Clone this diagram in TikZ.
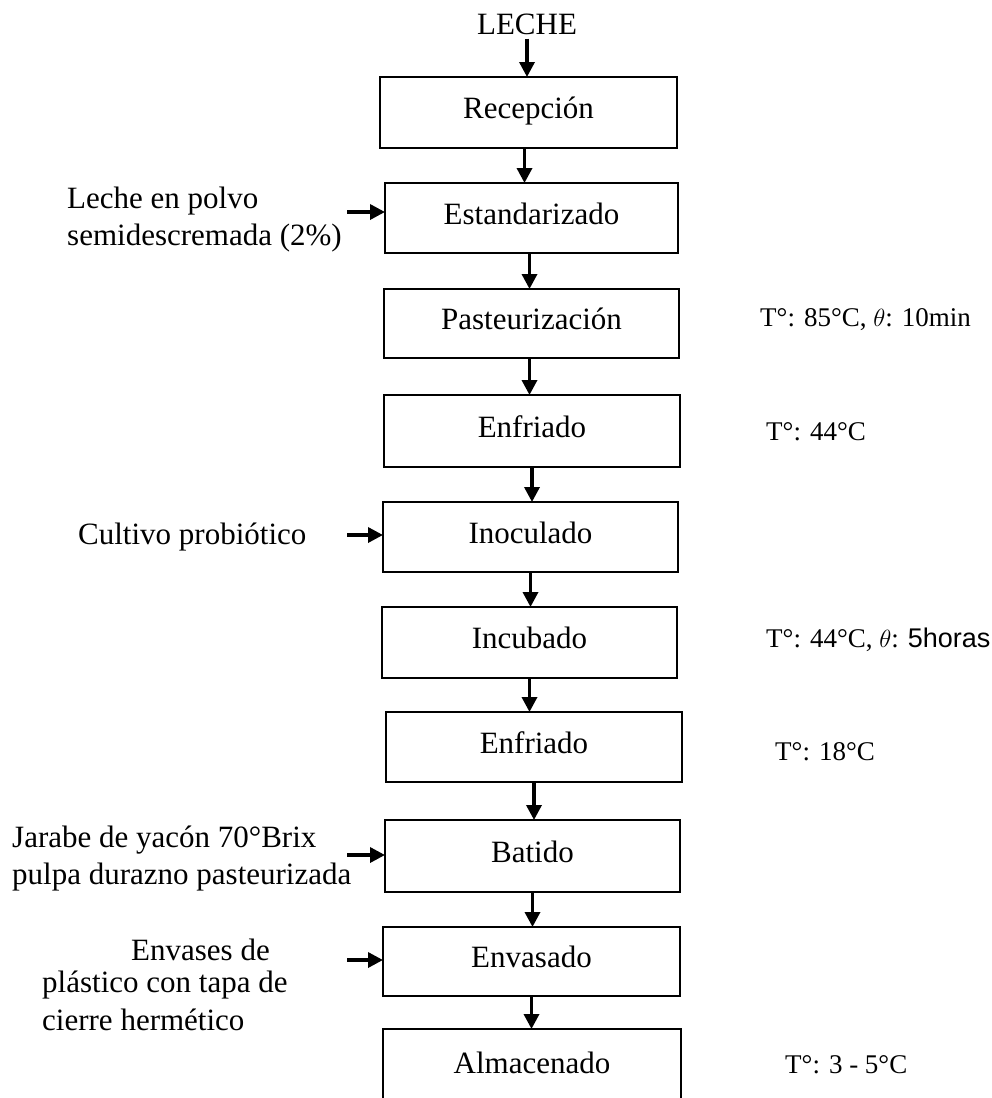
\documentclass[tikz,border=0pt]{standalone}
\usepackage{fontspec}
\setmainfont{Liberation Serif}
\newfontfamily\sanslab{Liberation Sans}
\usetikzlibrary{arrows.meta}

\begin{document}
\begin{tikzpicture}[x=1pt,y=-1pt,
  stepbox/.style={draw, line width=2.6pt, inner sep=0pt, outer sep=0pt,
    font=\fontsize{31}{37}\selectfont, text height=22pt, text depth=10pt},
  flow/.style={line width=3.4pt, -{Triangle[width=15pt,length=15pt]}},
  inlabel/.style={anchor=west, inner sep=0pt, font=\fontsize{31}{37}\selectfont},
  condlabel/.style={anchor=west, inner sep=0pt, font=\fontsize{27}{32}\selectfont}]

\useasboundingbox (0,0) rectangle (991,1098);
\clip (0,0) rectangle (991,1098);

% raw material
\node[inner sep=0pt, font=\fontsize{31}{37}\selectfont] (leche) at (527,24) {LECHE};

% process steps
\node[stepbox, minimum width=297pt, minimum height=71pt] (rec)  at (528.5,112.5) {Recepción};
\node[stepbox, minimum width=293pt, minimum height=70pt] (est)  at (531.5,218)   {Estandarizado};
\node[stepbox, minimum width=295pt, minimum height=69pt] (pas)  at (531.5,323.5) {Pasteurización};
\node[stepbox, minimum width=296pt, minimum height=72pt] (enf1) at (532,431)     {Enfriado};
\node[stepbox, minimum width=295pt, minimum height=70pt] (ino)  at (530.5,537)   {Inoculado};
\node[stepbox, minimum width=295pt, minimum height=71pt] (inc)  at (529.5,642.5) {Incubado};
\node[stepbox, minimum width=296pt, minimum height=70pt] (enf2) at (534,747)     {Enfriado};
\node[stepbox, minimum width=295pt, minimum height=72pt] (bat)  at (532.5,856)   {Batido};
\node[stepbox, minimum width=297pt, minimum height=69pt] (env)  at (531.5,961.5) {Envasado};
\node[stepbox, minimum width=298pt, minimum height=76pt] (alm)  at (532,1067)    {Almacenado};

% main flow
\draw[flow] ([yshift=-4pt]leche.south) -- (leche.south |- rec.north);
\draw[flow] ([xshift=-4pt]rec.south) -- ([xshift=-4pt]rec.south |- est.north);
\draw[flow] ([xshift=-2pt]est.south) -- ([xshift=-2pt]est.south |- pas.north);
\draw[flow] ([xshift=-2pt]pas.south) -- ([xshift=-2pt]pas.south |- enf1.north);
\draw[flow] (enf1.south) -- (enf1.south |- ino.north);
\draw[flow] (ino.south) -- (ino.south |- inc.north);
\draw[flow] (inc.south) -- (inc.south |- enf2.north);
\draw[flow] (enf2.south) -- (enf2.south |- bat.north);
\draw[flow] (bat.south) -- (bat.south |- env.north);
\draw[flow] (env.south) -- (env.south |- alm.north);

% added inputs
\node[inlabel] (in1a) at (67,201) {Leche en polvo};
\node[inlabel] (in1b) at (67,238) {semidescremada (2\%)};
\coordinate (a1) at (347,212);
\draw[flow] (a1) -- (a1 -| est.west);

\node[inlabel] (in2) at (78,537) {Cultivo probiótico};
\coordinate (a2) at (347,535);
\draw[flow] (a2) -- (a2 -| ino.west);

\node[inlabel] (in3a) at (12,840) {Jarabe de yacón 70°Brix};
\node[inlabel] (in3b) at (12,877) {pulpa durazno pasteurizada};
\coordinate (a3) at (347,855);
\draw[flow] (a3) -- (a3 -| bat.west);

\node[inlabel, anchor=east] (in4a) at (270,950) {Envases de};
\node[inlabel] (in4b) at (42,985) {plástico con tapa de};
\node[inlabel] (in4c) at (42,1020) {cierre hermético};
\coordinate (a4) at (347,960);
\draw[flow] (a4) -- (a4 -| env.west);

% process conditions
\node[condlabel] (c1) at (760,320) {T°: 85°C, $\theta$: 10min};
\node[condlabel] (c2) at (766,432) {T°: 44°C};
\node[condlabel] (c3) at (766,640) {T°: 44°C, $\theta$: {\sanslab 5horas}};
\node[condlabel] (c4) at (775,752) {T°: 18°C};
\node[condlabel] (c5) at (785,1065) {T°: 3 - 5°C};

\end{tikzpicture}
\end{document}
